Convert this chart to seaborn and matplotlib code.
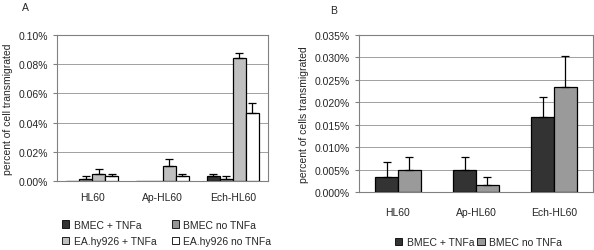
import numpy as np
import pandas as pd
import matplotlib
matplotlib.use("Agg")
import matplotlib.pyplot as plt
import seaborn as sns
from matplotlib.ticker import FuncFormatter
from matplotlib.patches import Patch

sns.set_style("white")
plt.rcParams['font.family'] = ['Liberation Sans', 'DejaVu Sans']

# data, values in percent
cells = ["HL60", "Ap-HL60", "Ech-HL60"]

# panel A
groups_a = ["BMEC + TNFa", "BMEC no TNFa", "EA.hy926 + TNFa", "EA.hy926 no TNFa"]
vals_a = {
    "BMEC + TNFa":      [0.0000, 0.0000, 0.0034],
    "BMEC no TNFa":     [0.0016, 0.0000, 0.0016],
    "EA.hy926 + TNFa":  [0.0050, 0.0103, 0.0840],
    "EA.hy926 no TNFa": [0.0034, 0.0034, 0.0467],
}
err_a = {
    "BMEC + TNFa":      [0.0000, 0.0000, 0.0016],
    "BMEC no TNFa":     [0.0018, 0.0000, 0.0018],
    "EA.hy926 + TNFa":  [0.0035, 0.0050, 0.0039],
    "EA.hy926 no TNFa": [0.0016, 0.0016, 0.0064],
}
colors_a = ["#333333", "#969696", "#c0c0c0", "#ffffff"]

# panel B
groups_b = ["BMEC + TNFa", "BMEC no TNFa"]
vals_b = {
    "BMEC + TNFa":  [0.0033, 0.0050, 0.0167],
    "BMEC no TNFa": [0.0050, 0.0016, 0.0233],
}
err_b = {
    "BMEC + TNFa":  [0.0034, 0.0029, 0.0044],
    "BMEC no TNFa": [0.0029, 0.0017, 0.0071],
}
colors_b = ["#333333", "#9a9a9a"]


def long_df(groups, vals):
    rows = []
    for g in groups:
        for c, v in zip(cells, vals[g]):
            rows.append({"cell": c, "group": g, "value": v})
    return pd.DataFrame(rows)


def draw_panel(ax, groups, vals, errs, colors, width, ymax, step, fmt, ylabel, xpad):
    df = long_df(groups, vals)
    sns.barplot(data=df, x="cell", y="value", hue="group", order=cells,
                hue_order=groups, palette=colors, errorbar=None,
                width=width, edgecolor="black", linewidth=0.9,
                saturation=1, legend=False, ax=ax, zorder=3)
    for g, cont in zip(groups, ax.containers):
        for bar, e in zip(cont.patches, errs[g]):
            if e <= 0:
                continue
            x = bar.get_x() + bar.get_width() / 2
            h = bar.get_height()
            ax.errorbar(x, h, yerr=[[0], [e]], fmt="none", ecolor="black",
                        elinewidth=0.9, capsize=3, capthick=0.9, zorder=4)
    ax.set_ylim(0, ymax)
    ax.set_yticks(np.arange(0, ymax + step / 2, step))
    ax.yaxis.set_major_formatter(FuncFormatter(lambda v, p: fmt.format(v)))
    ax.set_xlim(-0.5, 2.5)
    ax.set_xticks([0, 1, 2])
    ax.set_xticks([0.5, 1.5], minor=True)
    ax.tick_params(axis="x", which="major", length=0, labelsize=7.5, pad=xpad)
    ax.tick_params(axis="x", which="minor", length=3, color="#808080")
    ax.tick_params(axis="y", length=3, color="#808080", labelsize=7.5, left=True)
    ax.grid(axis="y", color="#a0a0a0", linewidth=0.7, zorder=0)
    for s in ax.spines.values():
        s.set_color("#808080")
        s.set_linewidth(0.8)
    ax.set_xlabel("")
    ax.set_ylabel(ylabel, fontsize=7.5)


fig = plt.figure(figsize=(5.94, 2.51), dpi=100)
ax1 = fig.add_axes([57 / 594, 1 - 182 / 251, 211 / 594, 146 / 251])
ax2 = fig.add_axes([359 / 594, 1 - 193 / 251, 234 / 594, 157 / 251])

draw_panel(ax1, groups_a, vals_a, err_a, colors_a, 0.74, 0.10, 0.02,
           "{:.2f}%", "percent of cell transmigrated", 8)
draw_panel(ax2, groups_b, vals_b, err_b, colors_b, 0.58, 0.035, 0.005,
           "{:.3f}%", "percent of cells transmigrated", 11)

h1 = [Patch(facecolor=c, edgecolor="black", linewidth=0.6) for c in colors_a]
order = [0, 2, 1, 3]
ax1.legend([h1[i] for i in order], [groups_a[i] for i in order], ncol=2,
           loc="upper center", bbox_to_anchor=(0.52, -0.2),
           frameon=False, fontsize=7.5, handlelength=0.7, handleheight=0.7,
           handletextpad=0.4, columnspacing=1.5, labelspacing=0.6)
h2 = [Patch(facecolor=c, edgecolor="black", linewidth=0.6) for c in colors_b]
ax2.legend(h2, groups_b, ncol=2, loc="upper center", bbox_to_anchor=(0.51, -0.23),
           frameon=False, fontsize=7.5, handlelength=0.7, handleheight=0.7,
           handletextpad=0.4, columnspacing=0.3)

fig.text(22 / 594, 1 - 8 / 251, "A", fontsize=7.5, va="center")
fig.text(330 / 594, 1 - 11 / 251, "B", fontsize=7.5, va="center")

fig.savefig("out.png", dpi=100)
